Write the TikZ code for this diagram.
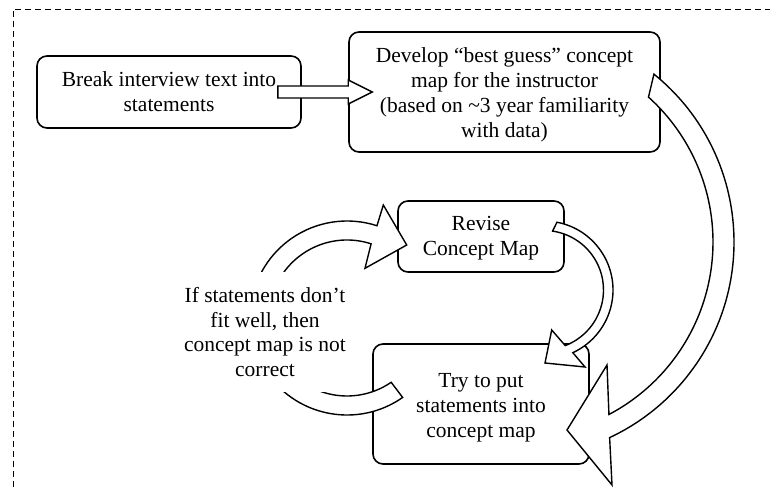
\documentclass[tikz,border=0pt]{standalone}
\usepackage{fontspec}
\setmainfont{Liberation Serif}
\usetikzlibrary{calc}
\begin{document}
\begin{tikzpicture}[x=1pt,y=1pt,
  font=\fontsize{21.5}{24.9}\selectfont,
  stepbox/.style={draw, rounded corners=10pt, line width=1.6pt, align=center, inner sep=0pt},
  blockarrow/.style={draw, fill=white, line width=1.4pt, line join=miter, miter limit=10},
  frame/.style={line width=0.9pt, dash pattern=on 6pt off 4pt}]
\useasboundingbox (0,0) rectangle (770,487);

% dashed outer frame, running off the right and bottom edges
\begin{scope}
  \clip (0,0) rectangle (770,487);
  \draw[frame] (13,-10) -- (13,478) -- (780,478);
\end{scope}

% process steps (the zero-width rules give the first line a full ascender)
\node[stepbox, minimum width=264pt, minimum height=72pt] (b1) at (169,395)
  {Break interview text into\\statements};
\node[stepbox, minimum width=311pt, minimum height=120pt] (b2) at (504.5,395)
  {\rule{0pt}{20pt}Develop “best guess” concept\\map for the instructor\\(based on \textasciitilde3 year familiarity\\with data)};
\node[stepbox, minimum width=166pt, minimum height=71pt] (b3) at (481,250.5)
  {\rule{0pt}{18pt}Revise\\Concept Map};
\node[stepbox, minimum width=216pt, minimum height=120pt] (b4) at (481,83)
  {\rule{0pt}{22pt}Try to put\\statements into\\concept map};

% centres of the curved block arrows
\coordinate (c1) at (518,245);
\coordinate (c2) at (544,197);
\coordinate (c3) at (347,169);

% straight block arrow: b1 -> b2
\draw[blockarrow] ($(b1.east)+(-24,6)$) -- ($(b2.west)+(0,6)$) -- ($(b2.west)+(0,12)$)
  -- ($(b2.west)+(24,0)$) -- ($(b2.west)+(0,-12)$) -- ($(b2.west)+(0,-6)$)
  -- ($(b1.east)+(-24,-6)$) -- cycle;

% large curved arrow: b2 -> b4
\draw[blockarrow] ($(c1)+(51:216)$) arc[start angle=51, end angle=-64.9, radius=216]
  -- (612,2) -- (567,57) -- (607,122)
  -- ($(c1)+(-62.2:195)$) arc[start angle=-62.2, end angle=48, radius=195] -- cycle;

% curved arrow: b3 -> b4
\draw[blockarrow] ($(c2)+(79.2:69)$) arc[start angle=79.2, end angle=-65.3, radius=69]
  -- (585,120) -- (545,124) -- (551.7,157)
  -- ($(c2)+(-69.1:59.5)$) arc[start angle=-69.1, end angle=81.7, radius=59.5] -- cycle;

% looping arrow: b4 -> b3
\draw[blockarrow] ($(c3)+(-55:97)$) arc[start angle=-55, end angle=-288, radius=97]
  -- (383.3,282) -- (406.7,242) -- (365,218.7)
  -- ($(c3)+(72:78)$) arc[start angle=-288, end angle=-55.5, radius=78] -- cycle;

% condition text, sitting over the loop
\node[fill=white, minimum width=170pt, minimum height=120.6pt, inner sep=0pt, align=center] (note) at (265,155)
  {If statements don’t\\fit well, then\\concept map is not\\correct};
\end{tikzpicture}
\end{document}
